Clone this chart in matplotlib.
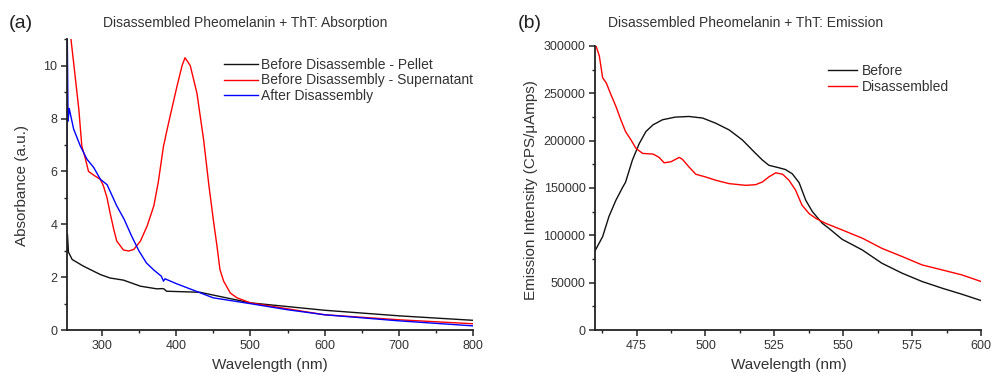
import matplotlib
matplotlib.use("Agg")
import matplotlib.pyplot as plt
from matplotlib.ticker import MultipleLocator

plt.rcParams["font.family"] = ["Liberation Sans", "DejaVu Sans"]

# ---- (a) absorption, values ----
pellet_nm = [253, 253.7, 255, 260, 275, 298, 311, 329, 352, 374, 382, 384, 387,
             432, 500, 600, 700, 800]
pellet_abs = [3.0, 3.62, 2.95, 2.67, 2.42, 2.1, 1.97, 1.89, 1.66, 1.56, 1.57, 1.55,
              1.47, 1.43, 1.03, 0.75, 0.54, 0.37]

super_nm = [258.4, 264, 269, 273, 278, 282, 290, 298, 302, 307, 311, 316, 320, 329,
            336, 343, 352, 361, 370, 376, 383, 385, 386, 392, 401, 408, 412, 419,
            428, 437, 444, 450, 455, 459, 464, 473, 482, 500, 600, 700, 800]
super_abs = [11.0, 9.6, 8.34, 6.96, 6.46, 6.0, 5.84, 5.7, 5.46, 5.0, 4.44, 3.81,
             3.37, 3.03, 2.99, 3.05, 3.37, 3.94, 4.7, 5.6, 6.96, 7.2, 7.35, 8.1, 9.2,
             10.0, 10.3, 10.0, 8.96, 7.2, 5.5, 4.19, 3.18, 2.29, 1.85, 1.4, 1.22,
             1.03, 0.58, 0.39, 0.24]

after_nm = [253, 253.3, 254.5, 256, 262, 271, 280, 289, 298, 307, 320, 330, 340,
            350, 360, 370, 380, 383, 385, 400, 425, 450, 500, 550, 600, 700, 800]
after_abs = [6.3, 11.5, 7.9, 8.38, 7.6, 6.96, 6.46, 6.15, 5.7, 5.5, 4.7, 4.19, 3.56,
             2.99, 2.54, 2.27, 2.04, 1.85, 1.94, 1.76, 1.49, 1.22, 1.0, 0.77, 0.58,
             0.35, 0.16]

# ---- (b) emission ----
before_nm = [460, 462.7, 465, 467.5, 470, 471, 473.5, 476, 478.4, 481, 484.4, 489,
             494, 499, 503.7, 508.6, 513.4, 518.2, 520.7, 523, 526.7, 529, 531.5,
             534, 536.4, 538.8, 542.4, 544.8, 549.6, 556.9, 564, 571.4, 578.6,
             585.9, 593, 600]
before_em = [84000, 98700, 120000, 137000, 151000, 156000, 179500, 197000, 209600,
             216700, 222000, 224800, 225500, 223800, 218400, 211300, 200700, 186500,
             179400, 174000, 171300, 169500, 165000, 155500, 137000, 125000, 112700,
             107400, 95800, 84600, 70600, 60000, 51300, 44200, 37900, 31200]

dis_nm = [460.3, 461.5, 462.7, 464, 465.7, 467.5, 469.3, 471, 473, 474.8, 477.2,
          481, 483.2, 485, 487.5, 490.5, 491.7, 494, 496.5, 500, 503.7, 508.6,
          514.6, 518.2, 520.7, 523, 525.5, 528, 530.3, 532.7, 535, 537.6, 540,
          543.6, 549.6, 557, 564, 571.4, 578.6, 585.9, 593, 600]
dis_em = [300000, 289400, 266300, 261000, 248600, 236200, 222000, 209600, 200700,
          191800, 186500, 185800, 182300, 176600, 177700, 182300, 180100, 172300,
          164500, 161700, 158200, 154600, 152800, 153500, 156400, 161700, 166000,
          164500, 158200, 147700, 132000, 123000, 118000, 112700, 105700, 96900,
          86300, 77600, 68800, 63500, 58300, 51300]

TXT = "#333333"

fig = plt.figure(figsize=(9.92, 3.73), dpi=100)
ax1 = fig.add_axes([0.0675, 0.115, 0.4095, 0.78])
ax2 = fig.add_axes([0.600, 0.115, 0.389, 0.762])


def style(ax):
    for s in ("top", "right"):
        ax.spines[s].set_visible(False)
    for s in ("left", "bottom"):
        ax.spines[s].set_linewidth(1.3)
        ax.spines[s].set_color("#222222")
    ax.tick_params(which="major", direction="out", length=4, width=1.1,
                   labelsize=9, labelcolor=TXT, color="#222222", pad=3)
    ax.tick_params(which="minor", direction="out", length=2.5, width=1.0,
                   color="#222222")


ax1.plot(pellet_nm, pellet_abs, color="#111111", lw=1.0, label="Before Disassemble - Pellet")
ax1.plot(super_nm, super_abs, color="#ff0000", lw=1.0, label="Before Disassembly - Supernatant")
ax1.plot(after_nm, after_abs, color="#0000ff", lw=1.0, label="After Disassembly")
ax1.set_xlim(253, 800)
ax1.set_ylim(0, 11)
ax1.xaxis.set_major_locator(MultipleLocator(100))
ax1.xaxis.set_minor_locator(MultipleLocator(50))
ax1.yaxis.set_major_locator(MultipleLocator(2))
ax1.yaxis.set_minor_locator(MultipleLocator(1))
style(ax1)
ax1.legend(loc="upper left", bbox_to_anchor=(0.226, 0.845), bbox_transform=fig.transFigure,
           frameon=False, fontsize=10, handlelength=2.45, handletextpad=0.2,
           labelspacing=0.12, borderpad=0, borderaxespad=0, labelcolor=TXT)

ax2.plot(before_nm, before_em, color="#111111", lw=1.0, label="Before")
ax2.plot(dis_nm, dis_em, color="#ff0000", lw=1.0, label="Disassembled")
ax2.set_xlim(460, 600)
ax2.set_ylim(0, 300000)
ax2.xaxis.set_major_locator(MultipleLocator(25))
ax2.xaxis.set_minor_locator(MultipleLocator(12.5))
ax2.yaxis.set_major_locator(MultipleLocator(50000))
ax2.yaxis.set_minor_locator(MultipleLocator(25000))
style(ax2)
ax2.legend(loc="upper left", bbox_to_anchor=(0.835, 0.828), bbox_transform=fig.transFigure,
           frameon=False, fontsize=10, handlelength=2.1, handletextpad=0.3,
           labelspacing=0.12, borderpad=0, borderaxespad=0, labelcolor=TXT)

# titles, axis labels, panel letters
fig.text(245 / 992, 1 - 23 / 373, "Disassembled Pheomelanin + ThT: Absorption",
         ha="center", va="center", fontsize=10, color=TXT)
fig.text(746 / 992, 1 - 23 / 373, "Disassembled Pheomelanin + ThT: Emission",
         ha="center", va="center", fontsize=10, color=TXT)
fig.text(21 / 992, 1 - 24 / 373, "(a)", ha="center", va="center", fontsize=14, color="#222222")
fig.text(530 / 992, 1 - 24 / 373, "(b)", ha="center", va="center", fontsize=14, color="#222222")
fig.text(270 / 992, 1 - 365 / 373, "Wavelength (nm)", ha="center", va="center",
         fontsize=11, color=TXT)
fig.text(789 / 992, 1 - 365 / 373, "Wavelength (nm)", ha="center", va="center",
         fontsize=11, color=TXT)
fig.text(22 / 992, 1 - 185 / 373, "Absorbance (a.u.)", ha="center", va="center",
         rotation=90, fontsize=11, color=TXT)
fig.text(531 / 992, 1 - 190 / 373, "Emission Intensity (CPS/\u03bcAmps)", ha="center",
         va="center", rotation=90, fontsize=11, color=TXT)

fig.savefig("out.png", dpi=100)
